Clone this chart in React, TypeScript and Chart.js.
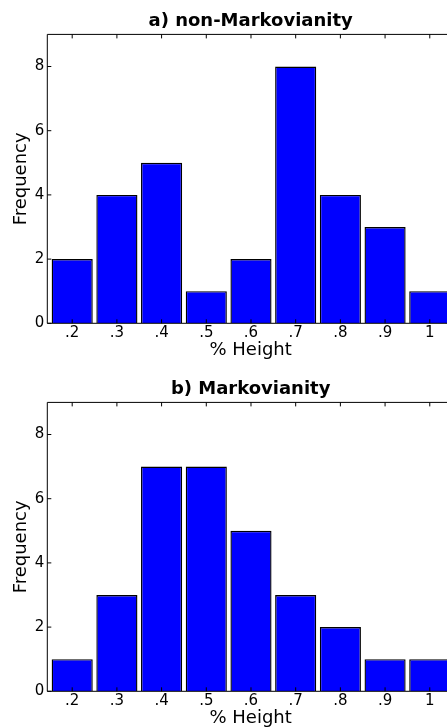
import React, { useEffect, useRef } from "react";
import { Chart, registerables } from "chart.js";

Chart.register(...registerables);

const FONT = "'DejaVu Sans', 'Liberation Sans', sans-serif";

const xValues = [0.2, 0.3, 0.4, 0.5, 0.6, 0.7, 0.8, 0.9, 1.0];
const xTickLabels = [".2", ".3", ".4", ".5", ".6", ".7", ".8", ".9", "1"];
const yTickValues = [0, 2, 4, 6, 8];
const nonMarkovCounts = [2, 4, 5, 1, 2, 8, 4, 3, 1];
const markovCounts = [1, 3, 7, 7, 5, 3, 2, 1, 1];
const titleA = "a) non-Markovianity";
const titleB = "b) Markovianity";
const xAxisTitle = "% Height";
const yAxisTitle = "Frequency";

const X_MIN = 0.1443;
const X_MAX = 1.0542;
const Y_MIN = 0;
const Y_MAX = 9;

const CANVAS_W = 454;
const CANVAS_H = 368;

const framePlugin = {
  id: "frame",
  afterDatasetsDraw(chart: any) {
    const { ctx, chartArea, scales } = chart;
    const { left, right, top, bottom } = chartArea;
    const x = scales.x;
    const y = scales.y;
    const tl = 4;
    ctx.save();
    ctx.strokeStyle = "#000";
    ctx.lineWidth = 1;
    ctx.beginPath();
    // spines
    ctx.moveTo(left, top);
    ctx.lineTo(right, top);
    ctx.moveTo(left, bottom);
    ctx.lineTo(right, bottom);
    ctx.moveTo(left, top);
    ctx.lineTo(left, bottom);
    ctx.moveTo(right, top);
    ctx.lineTo(right, bottom);
    // inward x ticks (top and bottom)
    for (const t of x.ticks) {
      const px = x.getPixelForValue(t.value);
      ctx.moveTo(px, top);
      ctx.lineTo(px, top + tl);
      ctx.moveTo(px, bottom);
      ctx.lineTo(px, bottom - tl);
    }
    // inward y ticks (left and right)
    for (const t of y.ticks) {
      const py = y.getPixelForValue(t.value);
      ctx.moveTo(left, py);
      ctx.lineTo(left + tl, py);
      ctx.moveTo(right, py);
      ctx.lineTo(right - tl, py);
    }
    ctx.stroke();
    ctx.restore();
  },
};

function Panel({ title, counts, top }: { title: string; counts: number[]; top: number }) {
  const ref = useRef<HTMLCanvasElement | null>(null);

  useEffect(() => {
    if (!ref.current) return;
    const chart = new Chart(ref.current, {
      type: "bar",
      data: {
        datasets: [
          {
            data: xValues.map((xv, i) => ({ x: xv, y: counts[i] })),
            backgroundColor: "#0000ff",
            borderColor: "#000000",
            borderWidth: 1.4,
            barPercentage: 0.92,
            categoryPercentage: 1,
          } as any,
        ],
      },
      options: {
        responsive: false,
        animation: false,
        devicePixelRatio: 1,
        layout: { padding: 0 },
        plugins: {
          legend: { display: false },
          tooltip: { enabled: false },
          title: {
            display: true,
            text: title,
            fullSize: false,
            color: "#000",
            font: { family: FONT, size: 18, weight: "bold", lineHeight: 1.2 },
            padding: { top: 10.85, bottom: 1.95 },
          },
        },
        scales: {
          x: {
            type: "linear",
            min: X_MIN,
            max: X_MAX,
            offset: false,
            grid: { display: false, drawTicks: false },
            border: { display: false },
            afterBuildTicks: (s: any) => {
              s.ticks = xValues.map((v) => ({ value: v }));
            },
            afterFit: (s: any) => {
              s.height = 44.7;
            },
            ticks: {
              callback: (_v: any, i: number) => xTickLabels[i],
              color: "#000",
              font: { family: FONT, size: 15 },
              padding: 1,
              maxRotation: 0,
              autoSkip: false,
            },
            title: {
              display: true,
              text: xAxisTitle,
              color: "#000",
              font: { family: FONT, size: 18, lineHeight: 1.2 },
              padding: { top: 0, bottom: 6.55 },
            },
          },
          y: {
            type: "linear",
            min: Y_MIN,
            max: Y_MAX,
            grid: { display: false, drawTicks: false },
            border: { display: false },
            afterBuildTicks: (s: any) => {
              s.ticks = yTickValues.map((v) => ({ value: v }));
            },
            afterFit: (s: any) => {
              s.width = 47.3;
            },
            ticks: {
              color: "#000",
              font: { family: FONT, size: 15 },
              padding: 3,
            },
            title: {
              display: true,
              text: yAxisTitle,
              color: "#000",
              font: { family: FONT, size: 18, lineHeight: 1.2 },
              padding: { top: 10.55, bottom: 0 },
            },
          },
        },
      } as any,
      plugins: [framePlugin],
    });
    return () => chart.destroy();
  }, [title, counts]);

  return (
    <canvas
      ref={ref}
      width={CANVAS_W}
      height={CANVAS_H}
      style={{ position: "absolute", left: 0, top, width: CANVAS_W, height: CANVAS_H }}
    />
  );
}

export default function App() {
  return (
    <div
      style={{
        position: "absolute",
        left: 0,
        top: 0,
        width: 447,
        height: 728,
        overflow: "hidden",
        background: "#fff",
      }}
    >
      <Panel title={titleA} counts={nonMarkovCounts} top={0} />
      <Panel title={titleB} counts={markovCounts} top={368} />
    </div>
  );
}
